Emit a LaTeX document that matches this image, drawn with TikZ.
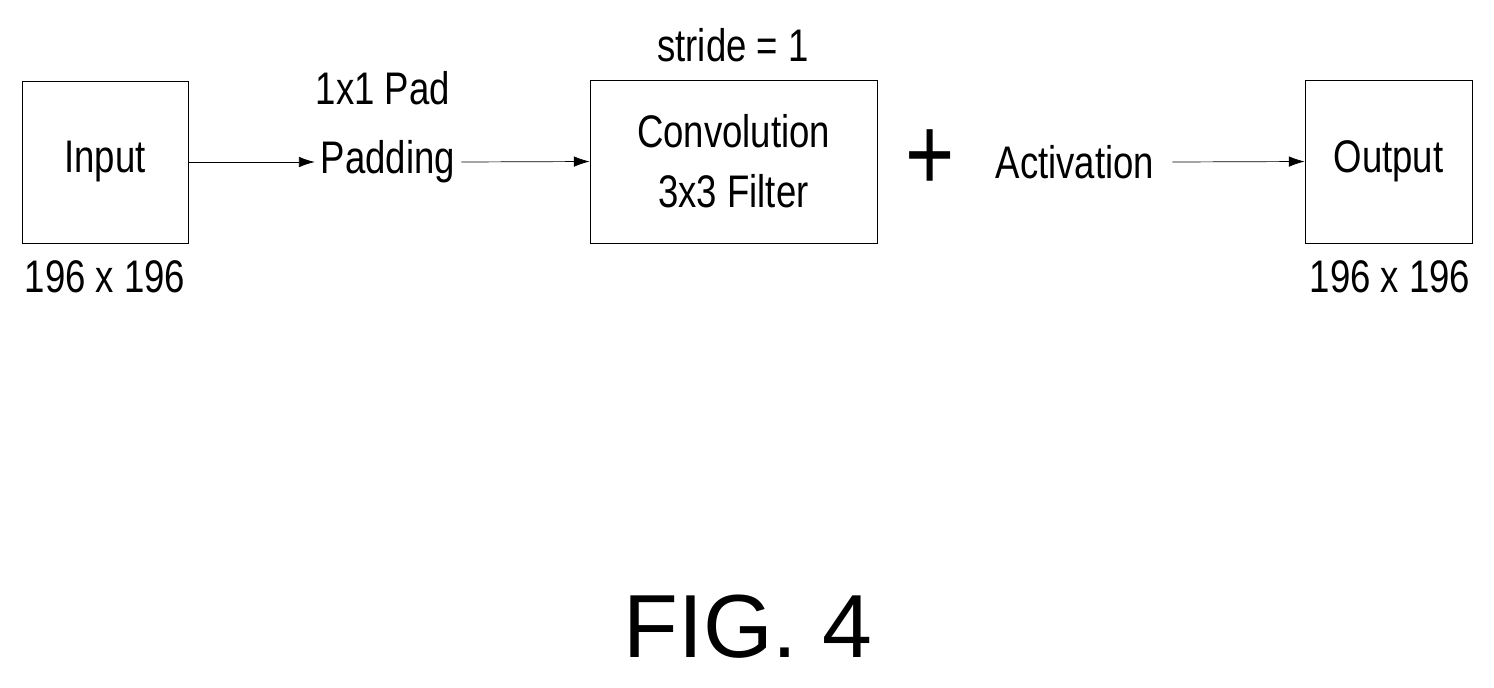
\documentclass[tikz,border=0pt]{standalone}
\usepackage{fontspec}
\setmainfont{Liberation Sans}[FakeStretch=0.8]
\newfontfamily\figfont{Liberation Sans}
\usetikzlibrary{positioning, arrows.meta}

\begin{document}
\begin{tikzpicture}[x=0.02cm, y=-0.02cm,
  font=\fontsize{26}{30}\selectfont,
  blockbox/.style={draw, thin, inner sep=0pt},
  flow/.style={-{Latex[length=9pt, width=6pt]}, thin}]
  \useasboundingbox (0,0) rectangle (1494,687);
  % blocks
  \node[blockbox, minimum width=166*0.02cm, minimum height=162*0.02cm] (input) at (105,162) {Input};
  \node[blockbox, minimum width=287*0.02cm, minimum height=163*0.02cm, align=center] (conv) at (733.5,161.5) {Convolution\\[4pt]3x3 Filter};
  \node[blockbox, minimum width=167*0.02cm, minimum height=163*0.02cm] (output) at (1388.5,161.5) {Output};
  % free texts
  \node (pad)   at (383,88)  {1x1 Pad};
  \node (padd)  at (388,162) {Padding};
  \node (stride) at (733,45) {stride = 1};
  \node (plus)  at (930,160) {\fontsize{60}{60}\selectfont +};
  \node (act)   at (1075,162) {Activation};
  \node (insz)  at (105,277)  {196 x 196};
  \node (outsz) at (1390,277) {196 x 196};
  \node (fig)   at (748,627)  {\figfont\fontsize{51}{55}\selectfont FIG. 4};
  % arrows
  \draw[flow] (input.east) -- (padd.west);
  \draw[flow] (padd.east) -- (conv.west);
  \draw[flow] (act.east) ++(12,0) coordinate (actend) (actend) -- (output.west);
\end{tikzpicture}
\end{document}
